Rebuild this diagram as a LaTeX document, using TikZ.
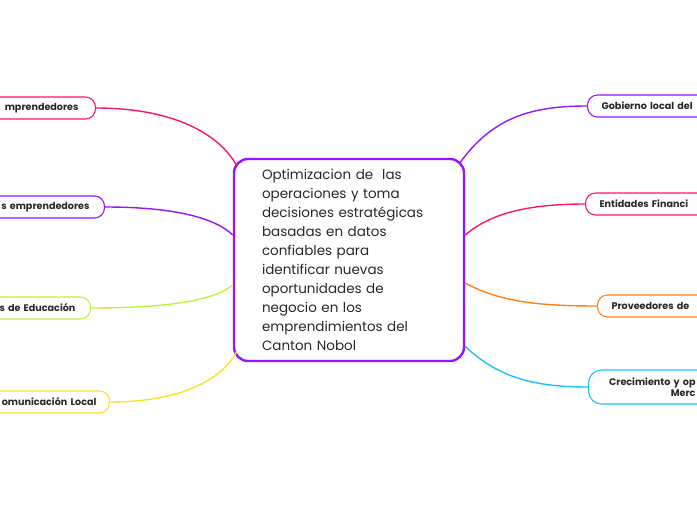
\documentclass[tikz,border=0pt]{standalone}
\usepackage{fontspec}
\setmainfont{Poppins}
\usepackage{xcolor}
\usetikzlibrary{positioning}

\definecolor{pinkbr}{RGB}{255,20,110}
\definecolor{purplebr}{RGB}{150,20,255}
\definecolor{limebr}{RGB}{190,242,60}
\definecolor{yellowbr}{RGB}{255,224,40}
\definecolor{orangebr}{RGB}{255,128,20}
\definecolor{cyanbr}{RGB}{30,190,255}
\definecolor{inktext}{RGB}{40,40,40}

\begin{document}
\begin{tikzpicture}[
  x=1pt, y=-1pt,
  topic/.style={draw=purplebr, line width=2.4pt, rounded corners=14pt, fill=white,
               text=inktext, align=left, text width=174pt,
               minimum width=230pt, minimum height=202pt,
               font=\fontsize{13.5}{19}\selectfont},
  leaf/.style={draw, line width=1.1pt, rounded corners=10pt, fill=white,
               text=inktext, minimum height=22pt, inner ysep=2pt,
               font=\fontsize{9.6}{11.5}\selectfont\bfseries},
  leafL/.style={leaf, anchor=east, align=right, text width=130pt, inner xsep=15pt},
  leafR/.style={leaf, anchor=west, align=left, text width=130pt, inner xsep=14pt},
  branch/.style={line width=1.4pt}
]
\useasboundingbox (0,0) rectangle (697,520);
\clip (0,0) rectangle (697,520);

% central topic
\node[topic] (opt) at (349,260) {Optimizacion de\ \ las\\operaciones y toma\\decisiones estratégicas\\basadas en datos\\confiables para\\identificar nuevas\\oportunidades de\\negocio en los\\emprendimientos del\\Canton Nobol};

% left side
\node[leafL, draw=pinkbr, inner xsep=17pt] (empA) at (96,108) {mprendedores};
\node[leafL, draw=purplebr] (empB) at (105,207) {s emprendedores};
\node[leafL, draw=limebr] (edu) at (91,308) {s de Educación};
\node[leafL, draw=yellowbr, inner xsep=13pt] (com) at (110,402) {omunicación Local};

% right side
\node[leafR, draw=purplebr] (gob) at (587,106) {Gobierno local del};
\node[leafR, draw=pinkbr] (ent) at (585,204) {Entidades Financi};
\node[leafR, draw=orangebr] (prov) at (597,306) {Proveedores de};
\node[leaf, draw=cyanbr, anchor=west, align=right, text width=90pt, inner xsep=17pt,
      minimum height=34pt, rounded corners=13pt] (crec) at (588,387) {Crecimiento y op\\Merc};

% branches
\draw[branch, pinkbr] (empA.east) .. controls (175,108) and (220,135) .. ([shift={(4,8)}]opt.north west);
\draw[branch, purplebr] (empB.east) .. controls (175,207) and (215,218) .. ([shift={(0,-25)}]opt.west);
\draw[branch, limebr] (edu.east) .. controls (170,308) and (215,300) .. ([shift={(0,25)}]opt.west);
\draw[branch, yellowbr] (com.east) .. controls (180,402) and (222,380) .. ([shift={(4,-11)}]opt.south west);

\draw[branch, purplebr] ([shift={(-6,6)}]opt.north east) .. controls (492,118) and (530,106) .. (gob.west);
\draw[branch, pinkbr] ([shift={(0,-25)}]opt.east) .. controls (492,212) and (532,204) .. (ent.west);
\draw[branch, orangebr] ([shift={(0,23)}]opt.east) .. controls (500,302) and (540,306) .. (prov.west);
\draw[branch, cyanbr] ([shift={(0,-16)}]opt.south east) .. controls (500,380) and (540,387) .. (crec.west);
\end{tikzpicture}
\end{document}
